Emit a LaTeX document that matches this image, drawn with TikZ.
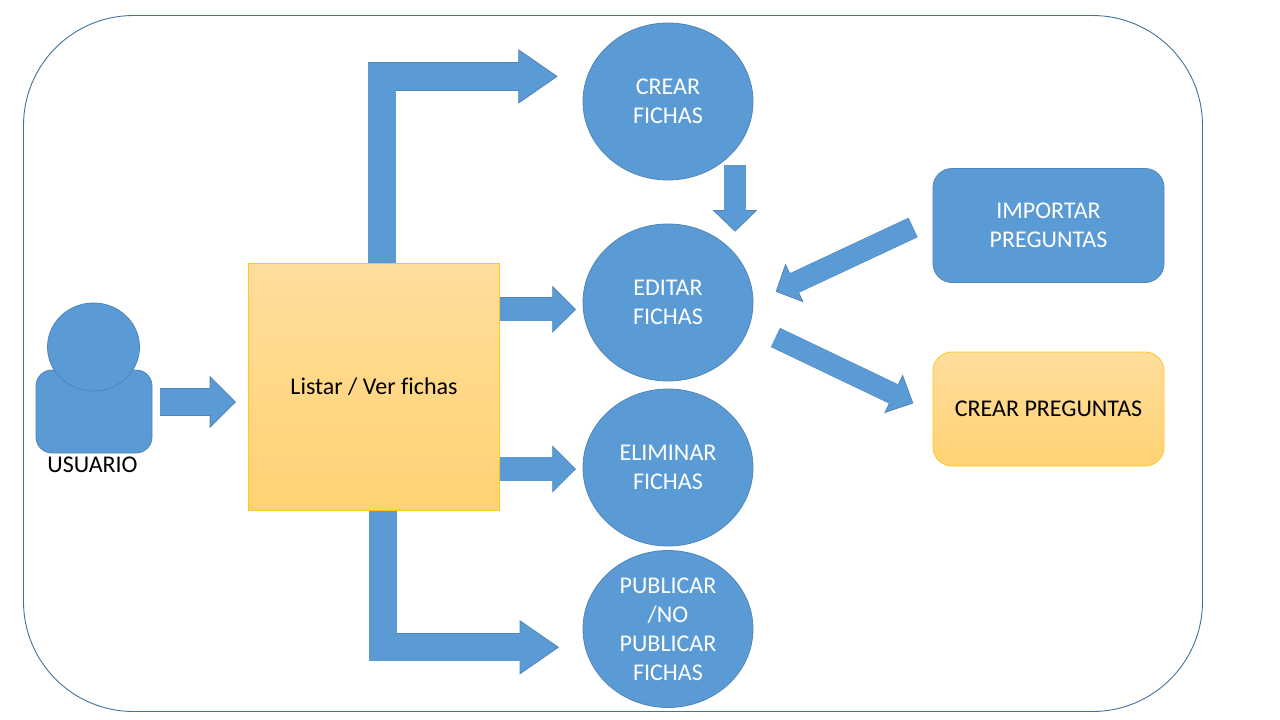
\documentclass[tikz,border=0pt]{standalone}
\usepackage{fontspec}
\setmainfont[RawFeature=-liga]{Carlito}
\usetikzlibrary{arrows.meta,shapes.geometric}
\definecolor{azul}{HTML}{5B9BD5}
\definecolor{azulborde}{HTML}{41719C}
\definecolor{azulsuave}{HTML}{4F85B8}
\definecolor{oroarriba}{HTML}{FFDD9C}
\definecolor{oroabajo}{HTML}{FFD273}
\definecolor{oroborde}{HTML}{FFC71F}
\begin{document}
\begin{tikzpicture}[
	x=1pt, y=-1pt,
	every node/.style={font=\fontsize{24}{29}\selectfont, align=center, inner sep=0pt, outer sep=0pt},
	marco/.style={draw=azulborde, line width=0.9pt, rounded corners=110pt, minimum width=1179pt, minimum height=696pt},
	circulo/.style={ellipse, draw=azulsuave, line width=0.8pt, fill=azul, text=white, minimum width=170pt, minimum height=157pt},
	caja/.style={rounded corners=19pt, line width=0.8pt, minimum width=231pt, minimum height=114pt},
	cajaazul/.style={caja, draw=azulsuave, fill=azul, text=white},
	cajaoro/.style={caja, draw=oroborde, top color=oroarriba, bottom color=oroabajo, text=black},
	flecha/.style n args={3}{line width=#1, color=azul, line join=miter, shorten >=#2-1pt,
		preaction={draw=azulsuave, line width=#1+0.8pt, shorten >=0pt,
			-{Triangle[length=#2, width=#3, line width=0.8pt, color=azulsuave, fill=azul]}}}]
	\useasboundingbox (0,0) rectangle (1280,720);
	\node[marco] (marco) at (613,363.5) {};

	% usuario
	\node[draw=azulsuave, line width=0.8pt, fill=azul, rounded corners=16pt, minimum width=116pt, minimum height=83pt] (cuerpo) at (94,411.5) {};
	\node[ellipse, draw=azulsuave, line width=0.8pt, fill=azul, minimum width=92pt, minimum height=88pt] (cabeza) at (93.5,347) {};
	\node (usuario) at (92.5,465) {USUARIO};

	% flechas que salen de la lista, van debajo
	\node[draw=oroborde, line width=0.8pt, minimum width=251pt, minimum height=247.5pt] (lista) at (374,386.75) {};
	\coordinate (puntaCrear) at (557.7,76.4);
	\coordinate (puntaPublicar) at (559,647.3);
	\coordinate (codoCrear) at (382,0);
	\coordinate (codoPublicar) at (383,0);
	\coordinate (puntaEditar) at (576,309.3);
	\coordinate (puntaEliminar) at (576,469);
	\draw[flecha={27.4pt}{39.4pt}{54.3pt}] (lista.north -| codoCrear) |- (puntaCrear);
	\draw[flecha={27.4pt}{39.4pt}{54.3pt}] (lista.south -| codoPublicar) |- (puntaPublicar);
	\draw[flecha={23.4pt}{23.7pt}{47pt}] (lista.east |- puntaEditar) -- (puntaEditar);
	\draw[flecha={23.4pt}{23.7pt}{47pt}] (lista.east |- puntaEliminar) -- (puntaEliminar);
	\node[draw=oroborde, line width=0.8pt, top color=oroarriba, bottom color=oroabajo, minimum width=251pt, minimum height=247.5pt] at (lista) {Listar / Ver fichas};

	% circulos
	\node[circulo] (crear) at (668,101.5) {CREAR\\FICHAS};
	\node[circulo] (editar) at (668,302.5) {EDITAR\\FICHAS};
	\node[circulo] (eliminar) at (668,467.5) {ELIMINAR\\FICHAS};
	\node[circulo] (publicar) at (668,629) {PUBLICAR\\/NO\\PUBLICAR\\FICHAS};

	% cajas
	\node[cajaazul] (importar) at (1048.5,225.5) {IMPORTAR\\PREGUNTAS};
	\node[cajaoro] (preguntas) at (1048.5,409) {CREAR PREGUNTAS};

	% el resto de flechas
	\coordinate (colaUsuario) at (160,402);
	\coordinate (puntaUsuario) at (236,402);
	\coordinate (colaBajar) at (735,165);
	\coordinate (puntaBajar) at (735,231.7);
	\coordinate (colaImportar) at (913,227.5);
	\coordinate (puntaImportar) at (775.7,291.7);
	\coordinate (colaPreguntas) at (775.5,337.5);
	\coordinate (puntaPreguntas) at (913.3,403.3);
	\draw[flecha={26.3pt}{26.3pt}{52.3pt}] (colaUsuario) -- (puntaUsuario);
	\draw[flecha={21.4pt}{21.7pt}{44.6pt}] (colaBajar) -- (puntaBajar);
	\draw[flecha={20.7pt}{20.8pt}{42.7pt}] (colaImportar) -- (puntaImportar);
	\draw[flecha={20.4pt}{22pt}{42.6pt}] (colaPreguntas) -- (puntaPreguntas);
\end{tikzpicture}
\end{document}
